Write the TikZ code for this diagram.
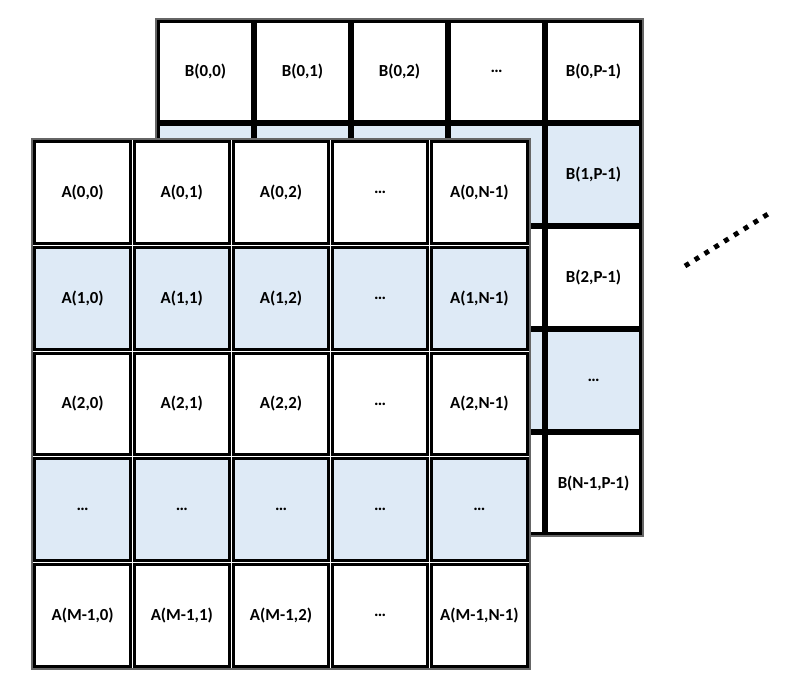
\documentclass[tikz,border=0pt]{standalone}
\usepackage{fontspec}
\setmainfont{Carlito}
\usetikzlibrary{positioning}
\definecolor{cellblue}{RGB}{222,234,246}
\tikzset{cell/.style = {draw, line width = 2pt, inner sep = 0, font = \bfseries\fontsize{12}{14}\selectfont},
  bcell/.style = {cell, minimum width = 23.3mm, minimum height = 24.8mm},
  acell/.style = {cell, minimum width = 23.85mm, minimum height = 25.45mm},
  frame/.style = {draw = black!60, line width = 1pt, fill = white},
  dotline/.style = {line width = 3.5pt, dash pattern = on 3.5pt off 4.74pt}}

\begin{document}
\begin{tikzpicture}[x = 0.25mm, y = -0.25mm]
    \useasboundingbox (0, 0) rectangle (801, 687);
    \draw [frame] (156, 19) rectangle (643, 536);
    \foreach \r/\rl in {0/0, 1/1, 2/2, 3/, 4/N-1}
      \foreach \c/\cl in {0/0, 1/1, 2/2, 3/, 4/P-1} {
        \ifodd\r \def\rowfill{cellblue}\else \def\rowfill{white}\fi
        \def\lbl{}
        \ifnum\r=0 \def\lbl{B(\rl,\cl)}\ifnum\c=3 \def\lbl{\ldots}\fi\fi
        \ifnum\c=4 \def\lbl{B(\rl,\cl)}\ifnum\r=3 \def\lbl{\ldots}\fi\fi
        \node [bcell, fill = \rowfill] (b-\r-\c) at ({157 + 97*\c + 48.5}, {20 + 103*\r + 51.5}) {\lbl};
      }
    \draw [frame] (32, 139) rectangle (530, 669);
    \foreach \r/\rl in {0/0, 1/1, 2/2, 3/, 4/M-1}
      \foreach \c/\cl in {0/0, 1/1, 2/2, 3/, 4/N-1} {
        \ifodd\r \def\rowfill{cellblue}\else \def\rowfill{white}\fi
        \def\lbl{A(\rl,\cl)}
        \ifnum\c=3 \def\lbl{\ldots}\fi
        \ifnum\r=3 \def\lbl{\ldots}\fi
        \node [acell, fill = \rowfill] (a-\r-\c) at ({33 + 99.2*\c + 49.6}, {140 + 105.6*\r + 52.8}) {\lbl};
      }
    \coordinate (more-start) at (685, 266);
    \coordinate (more-end) at (768, 214);
    \draw [dotline] (more-start) -- (more-end);
  \end{tikzpicture}
\end{document}
